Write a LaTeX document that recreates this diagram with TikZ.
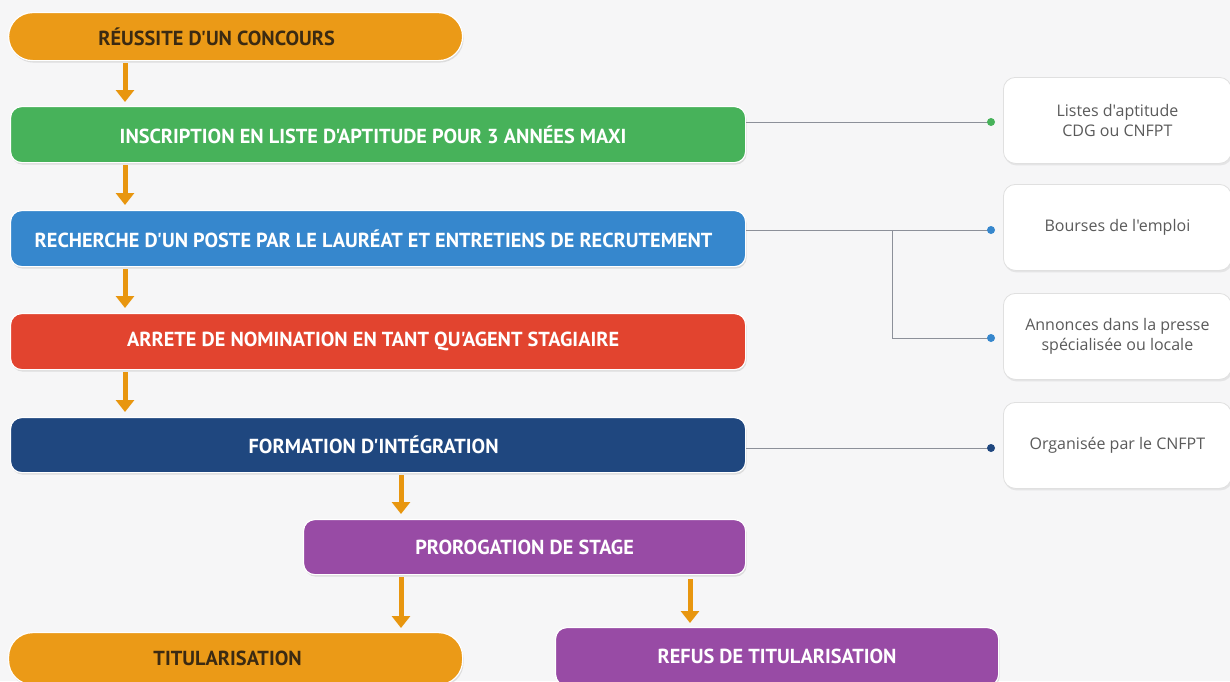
\documentclass[tikz,border=0pt]{standalone}
\usepackage{fontspec}
\setmainfont{PT Sans}
\newfontfamily\boxfont{PT Sans}
\newfontfamily\sidefont{Open Sans}
\usetikzlibrary{arrows.meta,shadows,calc}
\definecolor{bg}{HTML}{F6F6F7}
\definecolor{corange}{HTML}{EB9A17}
\definecolor{carrow}{HTML}{E8960F}
\definecolor{cgreen}{HTML}{47B25A}
\definecolor{cblue}{HTML}{3687CD}
\definecolor{cred}{HTML}{E2442F}
\definecolor{cnavy}{HTML}{1F477F}
\definecolor{cpurple}{HTML}{984BA5}
\definecolor{darktext}{HTML}{3B2A12}
\definecolor{sidetext}{HTML}{5A5A5A}
\definecolor{cline}{HTML}{8C9099}
\newcommand\txtleft[1]{\hspace*{-#1pt}}
\tikzset{
  stepbox/.style={rounded corners=11pt, draw=white, line width=1.2pt, anchor=north west,
    inner sep=0pt, text=white, font=\boxfont\bfseries\fontsize{20.3}{22}\selectfont,
    drop shadow={opacity=0.22, shadow xshift=1pt, shadow yshift=-2pt}},
  pillbox/.style={stepbox, rounded corners=24pt, fill=corange, text=darktext},
  sidebox/.style={rounded corners=12pt, fill=white, draw=black!12, line width=0.8pt, anchor=north west,
    inner sep=0pt, minimum width=228pt, minimum height=86pt, align=center, text=sidetext,
    font=\sidefont\fontsize{16}{20}\selectfont,
    drop shadow={opacity=0.15, shadow xshift=1pt, shadow yshift=-2pt}},
  arr/.style={draw=carrow, line width=5pt, -{Triangle[width=18pt,length=12pt]}},
  conn/.style={draw=cline, line width=0.9pt},
  dot/.style={circle, inner sep=0pt, minimum size=8pt}
}
\begin{document}
\begin{tikzpicture}[x=1pt,y=-1pt]
\fill[bg] (0,0) rectangle (1230,681);
\useasboundingbox (0,0) rectangle (1230,681);
\clip (0,0) rectangle (1230,681);
% main steps
\node[pillbox, minimum width=454pt, minimum height=48pt] (s1) at (8,12) {\txtleft{38}RÉUSSITE D'UN CONCOURS};
\node[stepbox, fill=cgreen, minimum width=735pt, minimum height=56pt] (s2) at (10,106) {\txtleft{10}INSCRIPTION EN LISTE D'APTITUDE POUR 3 ANNÉES MAXI};
\node[stepbox, fill=cblue, minimum width=735pt, minimum height=56pt] (s3) at (10,210) {\txtleft{9}RECHERCHE D'UN POSTE PAR LE LAURÉAT ET ENTRETIENS DE RECRUTEMENT};
\node[stepbox, fill=cred, minimum width=735pt, minimum height=56pt] (s4) at (10,313) {\txtleft{10}ARRETE DE NOMINATION EN TANT QU'AGENT STAGIAIRE};
\node[stepbox, fill=cnavy, minimum width=735pt, minimum height=55pt] (s5) at (10,417) {\txtleft{9}FORMATION D'INTÉGRATION};
\node[stepbox, fill=cpurple, minimum width=442pt, minimum height=55pt] (s6) at (303,519) {PROROGATION DE STAGE};
\node[pillbox, minimum width=454pt, minimum height=52pt] (s7) at (8,632) {\txtleft{16}TITULARISATION};
\node[stepbox, fill=cpurple, minimum width=443pt, minimum height=58pt] (s8) at (555,627) {REFUS DE TITULARISATION};
% side boxes
\node[sidebox] (r1) at (1003,77) {Listes d'aptitude\\CDG ou CNFPT};
\node[sidebox] (r2) at (1003,184) {Bourses de l'emploi};
\node[sidebox] (r3) at (1003,293) {Annonces dans la presse\\spécialisée ou locale};
\node[sidebox] (r4) at (1003,402) {Organisée par le CNFPT};
% arrow columns
\coordinate (ca) at (125,0);
\coordinate (cb) at (401,0);
\coordinate (cc) at (690,0);
\draw[arr, shorten <=2pt, shorten >=4pt] (s1.south -| ca) -- (s2.north -| ca);
\draw[arr, shorten <=2pt, shorten >=5pt] (s2.south -| ca) -- (s3.north -| ca);
\draw[arr, shorten <=2pt, shorten >=5pt] (s3.south -| ca) -- (s4.north -| ca);
\draw[arr, shorten <=2pt, shorten >=5pt] (s4.south -| ca) -- (s5.north -| ca);
\draw[arr, shorten <=2pt, shorten >=5pt] (s5.south -| cb) -- (s6.north -| cb);
\draw[arr, shorten <=2pt, shorten >=4pt] (s6.south -| cb) -- (s7.north -| cb);
\draw[arr, shorten <=4pt, shorten >=4pt] (s6.south -| cc) -- (s8.north -| cc);
% connectors
\coordinate (d1) at (991,122);
\coordinate (d2) at (991,230);
\coordinate (d3) at (991,338);
\coordinate (d4) at (991,448);
\coordinate (bx) at (892,0);
\draw[conn] (s2.east |- d1) -- (d1);
\draw[conn] (s3.east |- d2) -- (d2);
\draw[conn] (d2 -| bx) -- (d3 -| bx) -- (d3);
\draw[conn] (s5.east |- d4) -- (d4);
\node[dot, fill=cgreen] at (d1) {};
\node[dot, fill=cblue] at (d2) {};
\node[dot, fill=cblue] at (d3) {};
\node[dot, fill=cnavy] at (d4) {};
\end{tikzpicture}
\end{document}
